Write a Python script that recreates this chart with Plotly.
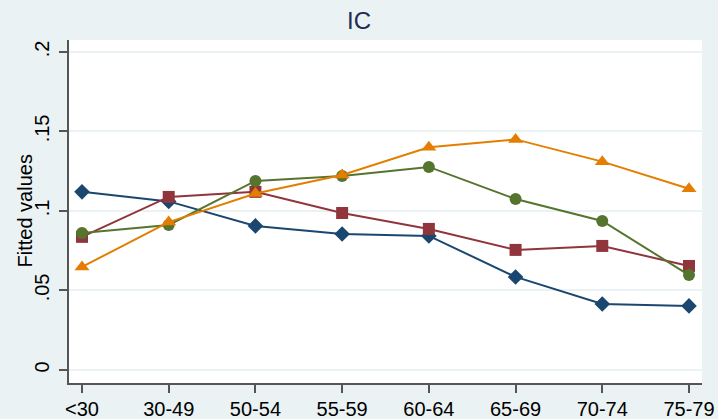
import plotly.graph_objects as go

categories = ["<30", "30-49", "50-54", "55-59", "60-64", "65-69", "70-74", "75-79"]
blue_vals = [0.112, 0.106, 0.0906, 0.0855, 0.0843, 0.0585, 0.0415, 0.0403]
red_vals = [0.0837, 0.1088, 0.112, 0.0987, 0.0887, 0.0755, 0.078, 0.0654]
green_vals = [0.0862, 0.0912, 0.1189, 0.122, 0.1277, 0.1075, 0.0937, 0.0597]
orange_vals = [0.0648, 0.093, 0.111, 0.1226, 0.140, 0.145, 0.131, 0.114]
y_ticks = [0, 0.05, 0.1, 0.15, 0.2]
y_ticklabels = ["0", ".05", ".1", ".15", ".2"]

series = [
    (blue_vals, "#1a476f", "diamond", 12),
    (red_vals, "#90353b", "square", 12),
    (green_vals, "#55752f", "circle", 12),
    (orange_vals, "#e37e00", "triangle-up", 13),
]

x_idx = list(range(len(categories)))
fig = go.Figure()
for vals, color, sym, size in series:
    fig.add_trace(go.Scatter(
        x=x_idx, y=vals, mode="lines+markers",
        line=dict(color=color, width=2),
        marker=dict(symbol=sym, size=size, color=color, line=dict(width=0)),
        showlegend=False,
    ))

bg = "#eaf2f3"
plot_w = 718 - 69 - 16
fig.update_layout(
    width=718, height=419,
    paper_bgcolor=bg, plot_bgcolor="white",
    margin=dict(l=69, r=16, t=40, b=36),
    font=dict(family="Liberation Sans, Arial, sans-serif", color="black"),
    title=dict(text="IC", x=0.5, xanchor="center", y=0.95, yanchor="middle",
               font=dict(size=24, color="#1e2d54")),
    xaxis=dict(
        tickmode="array", tickvals=x_idx, ticktext=categories,
        range=[-0.15, 7.15], showgrid=False, zeroline=False,
        showline=True, linecolor="#555555", linewidth=1.5,
        ticks="outside", ticklen=8, tickcolor="#555555", tickwidth=1.5,
        tickfont=dict(size=20, color="black"), ticklabelstandoff=-1, automargin=False,
    ),
    yaxis=dict(
        tickmode="array", tickvals=y_ticks, ticktext=y_ticklabels,
        range=[-0.0082, 0.2075], showgrid=True, gridcolor=bg, gridwidth=1.5,
        zeroline=False, showline=True, linecolor="#555555", linewidth=1.5,
        ticks="outside", ticklen=8, tickcolor="#555555", tickwidth=1.5,
        tickangle=-90, tickfont=dict(size=20, color="black"), ticklabelstandoff=2,
        automargin=False,
    ),
    annotations=[dict(
        text="Fitted values", textangle=-90, showarrow=False,
        xref="paper", yref="paper", x=-(69 - 24) / plot_w, y=0.5,
        xanchor="center", yanchor="middle",
        font=dict(size=20, color="black"),
    )],
)
fig.write_html("out.html", config={"displayModeBar": False},
               post_script="document.body.style.margin='0';document.body.style.overflow='hidden';")
